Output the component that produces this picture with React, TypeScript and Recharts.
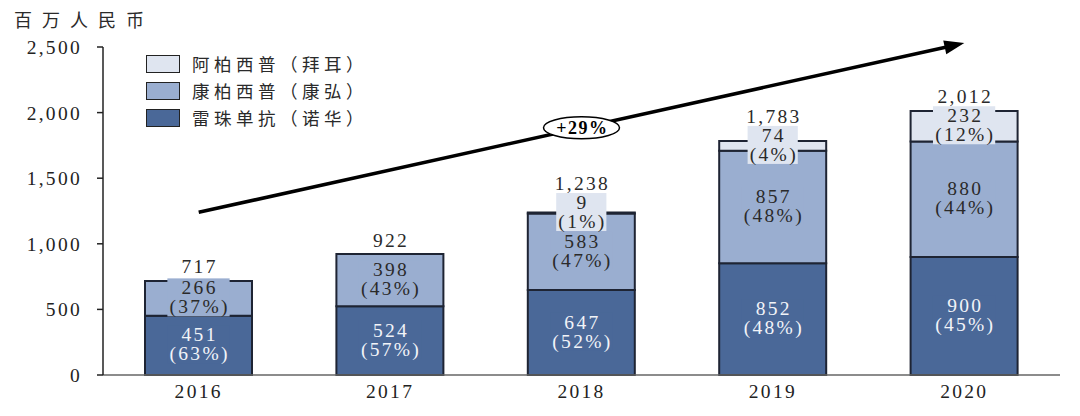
import { Bar, BarChart, LabelList, Legend, ReferenceLine, XAxis, YAxis } from "recharts";

// 年份
const years = ["2016", "2017", "2018", "2019", "2020"];
// 雷珠单抗（诺华）
const ranibizumab = [451, 524, 647, 852, 900];
const ranibizumabPct = [63, 57, 52, 48, 45];
// 康柏西普（康弘）
const conbercept = [266, 398, 583, 857, 880];
const conberceptPct = [37, 43, 47, 48, 44];
// 阿柏西普（拜耳）
const aflibercept = [0, 0, 9, 74, 232];
const afliberceptPct = [0, 0, 1, 4, 12];
// stacked totals as printed above each bar
const totals = ["717", "922", "1,238", "1,783", "2,012"];
const yTicks = [0, 500, 1000, 1500, 2000, 2500];
// growth arrow (data units) and its label
const trendStart = { x: "2016", y: 1240 };
const trendEnd = { x: "2020", y: 2530 };
const cagrLabel = "+29%";

const SERIF = '"Liberation Serif", "Times New Roman", serif';
const CJK = '"Noto Sans CJK SC", "Noto Sans", sans-serif';
const FS = 19.5;
const LS = 2.3;

const data = years.map((year, i) => ({
  year,
  ranibizumab: ranibizumab[i],
  conbercept: conbercept[i],
  aflibercept: aflibercept[i],
}));

const series = [
  { key: "ranibizumab", name: "雷珠单抗（诺华）", fill: "#4a6898", text: "#f2f4f8", values: ranibizumab, pct: ranibizumabPct },
  { key: "conbercept", name: "康柏西普（康弘）", fill: "#9aaed0", text: "#2a2a2a", values: conbercept, pct: conberceptPct },
  { key: "aflibercept", name: "阿柏西普（拜耳）", fill: "#dfe5f0", text: "#2a2a2a", values: aflibercept, pct: afliberceptPct },
];

// rough Times-like advance widths, good enough to size the label boxes
function textWidth(s: string) {
  let w = 0;
  for (const ch of s) {
    if (ch === "(" || ch === ")") w += 0.333;
    else if (ch === "%") w += 0.833;
    else if (ch === ",") w += 0.25;
    else w += 0.5;
  }
  return w * FS + s.length * LS;
}

const textStyle = { fontFamily: SERIF, fontSize: FS, letterSpacing: LS };

// Labels for one stacked segment. The middle series also carries the total,
// since the top series has no rectangle (and no label slot) where it is 0.
function segmentLabel(si: number) {
  const s = series[si];
  const top = series[series.length - 1];
  const carriesTotal = si === series.length - 2;
  return (props: any) => {
    const idx = years.indexOf(String(props.value));
    if (idx < 0) return null;
    const x = Number(props.x);
    const y = Number(props.y);
    const width = Number(props.width);
    const height = Number(props.height);
    const v = s.values[idx];
    const cx = x + width / 2 + LS / 2;
    const cy = y + height / 2 - 1;
    const parts = [];
    if (v > 0) {
      const l1 = String(v);
      const l2 = `(${s.pct[idx]}%)`;
      const w = Math.max(textWidth(l1), textWidth(l2)) + 2;
      parts.push(
        <rect key="bg" x={cx - LS / 2 - w / 2} y={cy - 19} width={w} height={38} fill={s.fill} />,
        <text key="l1" x={cx} y={cy - 9.5} textAnchor="middle" dominantBaseline="central" fill={s.text} style={textStyle}>{l1}</text>,
        <text key="l2" x={cx} y={cy + 9.5} textAnchor="middle" dominantBaseline="central" fill={s.text} style={textStyle}>{l2}</text>,
      );
    }
    if (carriesTotal) {
      // pixels per unit taken from this segment's own rectangle
      const k = height / v;
      const tv = top.values[idx];
      const barTop = y - tv * k;
      const firstLine = tv > 0 ? y - (tv * k) / 2 - 1 - 9.5 : cy - 9.5;
      const ty = Math.min(barTop - 14, firstLine - 19);
      parts.push(
        <text key="tot" x={cx} y={ty} textAnchor="middle" dominantBaseline="central" fill="#2a2a2a" style={textStyle}>{totals[idx]}</text>,
      );
    }
    return <g>{parts}</g>;
  };
}

function TrendArrow(props: any) {
  const x1 = Number(props.x1);
  const y1 = Number(props.y1);
  const x2 = Number(props.x2);
  const y2 = Number(props.y2);
  if (![x1, y1, x2, y2].every(Number.isFinite)) return <g />;
  const len = Math.hypot(x2 - x1, y2 - y1);
  const ux = (x2 - x1) / len;
  const uy = (y2 - y1) / len;
  const head = 20;
  const half = 7;
  const bx = x2 - ux * head;
  const by = y2 - uy * head;
  const mx = (x1 + x2) / 2;
  const my = (y1 + y2) / 2;
  return (
    <g>
      <line x1={x1} y1={y1} x2={bx + ux * 2} y2={by + uy * 2} stroke="#000" strokeWidth={3.5} />
      <polygon points={`${x2},${y2} ${bx - uy * half},${by + ux * half} ${bx + uy * half},${by - ux * half}`} fill="#000" />
      <ellipse cx={mx} cy={my} rx={38} ry={11} fill="#fff" stroke="#000" strokeWidth={1.5} />
      <text x={mx + 1} y={my} textAnchor="middle" dominantBaseline="central" fill="#000"
        style={{ fontFamily: SERIF, fontSize: 18, fontWeight: 700, letterSpacing: 1.5 }}>{cagrLabel}</text>
    </g>
  );
}

function LegendBox() {
  const items = [...series].reverse();
  return (
    <div>
      {items.map((s) => (
        <div key={s.key} style={{ display: "flex", alignItems: "center", height: 27 }}>
          <span style={{ display: "inline-block", width: 32, height: 16, background: s.fill, border: "1.5px solid #222" }} />
          <span style={{ marginLeft: 12, fontFamily: CJK, fontSize: 17.5, letterSpacing: 4.5, color: "#2a2a2a" }}>{s.name}</span>
        </div>
      ))}
    </div>
  );
}

export default function App() {
  return (
    <div style={{ position: "relative", width: 1080, height: 416, background: "#fff" }}>
      <style>{"body{margin:0}"}</style>
      <div style={{ position: "absolute", left: 14, top: 6, fontFamily: CJK, fontSize: 18, letterSpacing: 10, color: "#2a2a2a" }}>
        百万人民币
      </div>
      <BarChart width={1080} height={416} data={data} margin={{ top: 47, right: 20, left: 0, bottom: 0 }}>
        <XAxis
          dataKey="year"
          height={41}
          axisLine={{ stroke: "#666", strokeWidth: 1.5 }}
          tickLine={false}
          tickSize={0}
          tickMargin={9}
          tick={{ fontFamily: SERIF, fontSize: FS, fill: "#222", letterSpacing: LS }}
        />
        <YAxis
          width={103}
          domain={[0, 2500]}
          ticks={yTicks}
          tickFormatter={(v: number) => v.toLocaleString("en-US")}
          axisLine={{ stroke: "#222", strokeWidth: 1.5 }}
          tickLine={{ stroke: "#222", strokeWidth: 1.5 }}
          tickSize={6}
          tickMargin={15}
          tick={{ fontFamily: SERIF, fontSize: FS, fill: "#222", letterSpacing: LS }}
        />
        <Legend
          layout="vertical"
          align="center"
          verticalAlign="middle"
          content={<LegendBox />}
          wrapperStyle={{ left: 146, top: 50, width: 260, height: 90 }}
        />
        {series.map((s, i) => (
          <Bar
            key={s.key}
            dataKey={s.key}
            name={s.name}
            stackId="a"
            barSize={107}
            fill={s.fill}
            stroke="#1e2433"
            strokeWidth={2}
            isAnimationActive={false}
          >
            <LabelList dataKey="year" content={segmentLabel(i)} />
          </Bar>
        ))}
        <ReferenceLine
          segment={[trendStart, trendEnd]}
          ifOverflow="visible"
          stroke="#000"
          shape={TrendArrow}
        />
      </BarChart>
    </div>
  );
}
